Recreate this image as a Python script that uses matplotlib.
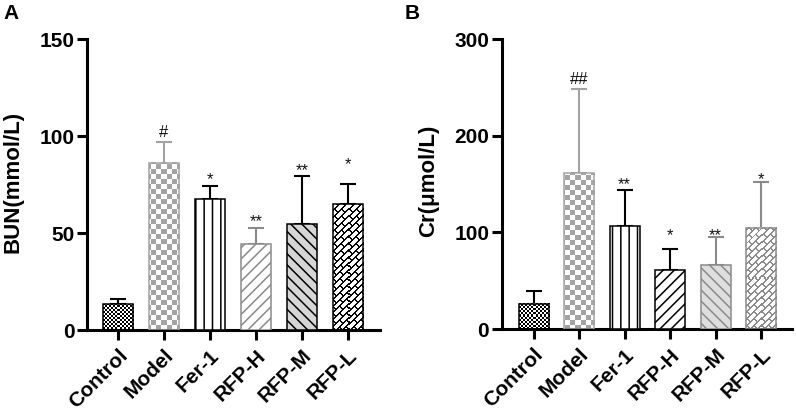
import numpy as np
import matplotlib
matplotlib.use("Agg")
import matplotlib.pyplot as plt
from matplotlib.colors import to_rgb

plt.rcParams['font.family'] = ['Liberation Sans', 'DejaVu Sans']
plt.rcParams['hatch.linewidth'] = 1.1

# ---- data ----
groups = ['Control', 'Model', 'Fer-1', 'RFP-H', 'RFP-M', 'RFP-L']

bun_mean = [13.4, 86.2, 67.4, 44.2, 54.5, 64.8]
bun_sd = [2.4, 10.5, 6.8, 8.5, 25.0, 10.3]
bun_sig = ['', '#', '*', '**', '**', '*']
bun_sig_y = [None, 101.7, 79.9, 58.4, 84.7, 87.6]

cr_mean = [25.9, 161.5, 106.7, 60.8, 66.0, 104.9]
cr_sd = [13.8, 87.3, 37.3, 22.4, 29.6, 47.6]
cr_sig = ['', '##', '**', '*', '**', '*']
cr_sig_y = [None, 258.6, 154.3, 101.5, 101.8, 160.2]

GRAY = '#a3a3a3'
DGRAY = '#8a8a8a'

# fill style of each bar: (kind, line colour, background)
styles_a = [('fine', 'black', 'white'), ('checker', GRAY, 'white'),
            ('||', 'black', 'white'), ('///', DGRAY, 'white'),
            ('\\\\\\', 'black', '#d6d6d6'), ('brick', 'black', 'white')]
styles_b = [('fine', 'black', 'white'), ('checker', GRAY, 'white'),
            ('||', 'black', 'white'), ('///', 'black', 'white'),
            ('\\\\\\', DGRAY, '#dedede'), ('brick', DGRAY, 'white')]


def pattern_mask(kind, X, Y):
    if kind == 'fine':
        s = 2
        return ((X // s + Y // s) % 2) == 0
    if kind == 'checker':
        s = 5
        return ((X // s + Y // s) % 2) == 0
    # brick rotated 45 deg, long side along "/"
    u = (X + Y) / np.sqrt(2)
    v = (Y - X) / np.sqrt(2)
    H, L, t = 4.8, 10.0, 1.4
    row = np.floor(v / H)
    uu = u + (row % 2) * L / 2
    return ((v % H) < t) | ((uu % L) < t)


def fill_pattern(ax, bar, kind, fg, bg):
    bb = bar.get_window_extent()
    w = max(int(round(bb.width)), 1)
    h = max(int(round(bb.height)), 1)
    X, Y = np.meshgrid(np.arange(w) + int(bb.x0), np.arange(h) + int(bb.y0))
    m = pattern_mask(kind, X, Y)
    img = np.where(m[..., None], np.array(to_rgb(fg)), np.array(to_rgb(bg)))
    x0 = bar.get_x()
    ax.imshow(img, extent=(x0, x0 + bar.get_width(), 0, bar.get_height()),
              origin='lower', interpolation='nearest', aspect='auto',
              clip_path=bar, zorder=2)


def panel(ax, means, sds, sig, sig_y, styles, ymax, ylabel, xlim):
    x = np.arange(len(groups))
    ax.set_xlim(*xlim)
    ax.set_ylim(0, ymax)
    for i in range(len(groups)):
        kind, col, bg = styles[i]
        if kind in ('fine', 'checker', 'brick'):
            b = ax.bar(x[i], means[i], width=0.66, facecolor='none',
                       edgecolor=col, linewidth=1.1, zorder=3)[0]
            fill_pattern(ax, b, kind, col, bg)
        else:
            ax.bar(x[i], means[i], width=0.66, facecolor=bg, edgecolor=col,
                   hatch=kind, linewidth=1.1, zorder=3)
        ax.errorbar(x[i], means[i], yerr=[[0], [sds[i]]], fmt='none',
                    ecolor=col, elinewidth=1.5, capsize=5.5, capthick=1.5,
                    zorder=1)
        if sig[i]:
            off = 0 if '#' in sig[i] else -3.5
            ax.annotate(sig[i], (x[i], sig_y[i]), xytext=(0, off),
                        textcoords='offset points', ha='center', va='center',
                        fontsize=12, color='#111111')
    ax.set_xlim(*xlim)
    ax.set_ylim(0, ymax)
    ax.set_yticks(np.linspace(0, ymax, 4))
    ax.set_xticks(x)
    ax.set_xticklabels(groups, rotation=45, ha='right', rotation_mode='anchor',
                       fontsize=15, fontweight='bold')
    for lab in ax.get_yticklabels():
        lab.set_fontweight('bold')
        lab.set_fontsize(15)
    ax.set_ylabel(ylabel, fontsize=16, fontweight='bold')
    ax.spines['top'].set_visible(False)
    ax.spines['right'].set_visible(False)
    ax.spines['left'].set_linewidth(2.2)
    ax.spines['bottom'].set_linewidth(2.2)
    ax.tick_params(width=2.2, length=7.5)
    ax.tick_params(axis='y', pad=1.5)
    ax.tick_params(axis='x', pad=4)


fig = plt.figure(figsize=(7.96, 4.16), dpi=100)
ax_a = fig.add_axes([0.1093, 0.2067, 0.368, 0.6995])
ax_b = fig.add_axes([0.6303, 0.2091, 0.3647, 0.6964])

panel(ax_a, bun_mean, bun_sd, bun_sig, bun_sig_y, styles_a, 150,
      'BUN(mmol/L)', (-0.67, 5.70))
panel(ax_b, cr_mean, cr_sd, cr_sig, cr_sig_y, styles_b, 300,
      'Cr(μmol/L)', (-0.70, 5.68))
ax_a.yaxis.set_label_coords(-0.218, 0.51)
ax_b.yaxis.set_label_coords(-0.215, 0.51)

fig.text(3 / 796, 1 - 4 / 416, 'A', fontsize=15, fontweight='bold', va='top')
fig.text(405 / 796, 1 - 4 / 416, 'B', fontsize=15, fontweight='bold', va='top')

fig.savefig('out.png', dpi=100)
